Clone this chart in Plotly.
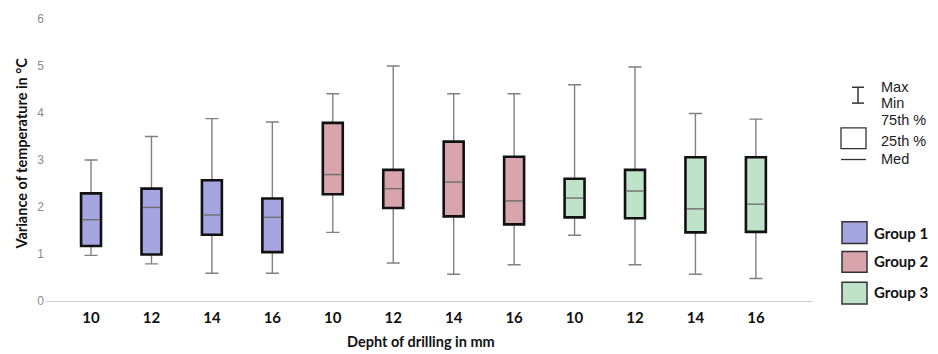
import plotly.graph_objects as go
import numpy as np

depths = ["10", "12", "14", "16"]
groups = ["Group 1", "Group 2", "Group 3"]
fills = ["#A5A5E1", "#D9A5AD", "#BEE3C9"]

maxv = [[3.00, 3.50, 3.88, 3.81], [4.41, 5.00, 4.41, 4.41], [4.60, 4.98, 3.99, 3.87]]
q3v = [[2.29, 2.39, 2.57, 2.18], [3.79, 2.79, 3.39, 3.07], [2.60, 2.79, 3.06, 3.06]]
medv = [[1.73, 1.99, 1.83, 1.78], [2.69, 2.39, 2.53, 2.13], [2.19, 2.34, 1.96, 2.06]]
q1v = [[1.17, 0.99, 1.41, 1.04], [2.27, 1.98, 1.80, 1.63], [1.78, 1.76, 1.46, 1.47]]
minv = [[0.97, 0.79, 0.59, 0.59], [1.46, 0.81, 0.57, 0.77], [1.40, 0.77, 0.57, 0.48]]

W, H = 938, 354
# plot area in pixels
PL, PR, PT, PB = 46, 813, 16, 301
ML, MR, MT, MB = PL, W - PR, PT, H - PB

def px(x):
    return (x - PL) / (PR - PL)

def py(y):
    return (PB - y) / (PB - PT)

fig = go.Figure()
BOXW = 0.33
for g in range(3):
    xs = [g * 4 + j for j in range(4)]
    mx = np.array(maxv[g]); mn = np.array(minv[g])
    q1 = np.array(q1v[g]); q3 = np.array(q3v[g]); md = np.array(medv[g])
    # whiskers
    fig.add_trace(go.Bar(
        x=xs, y=mx, width=BOXW,
        marker=dict(color="rgba(0,0,0,0)", line=dict(width=0)),
        error_y=dict(type="data", symmetric=False, array=np.zeros(4), arrayminus=mx - mn,
                     color="#808080", thickness=1.4, width=6.5),
        showlegend=False, hoverinfo="skip"))
    # boxes
    fig.add_trace(go.Bar(
        x=xs, y=q3 - q1, base=q1, width=BOXW, name=groups[g],
        marker=dict(color=fills[g], line=dict(color="#111111", width=2.6)),
        showlegend=False))
    # medians
    fig.add_trace(go.Scatter(
        x=xs, y=md, mode="markers",
        marker=dict(symbol="line-ew", size=12.2, line=dict(color="#6e6e6e", width=1.4)),
        showlegend=False, hoverinfo="skip"))

ticktext = depths * 3
fig.update_layout(
    width=W, height=H, autosize=False,
    margin=dict(l=ML, r=MR, t=MT, b=MB),
    plot_bgcolor="white", paper_bgcolor="white",
    barmode="overlay",
    xaxis=dict(range=[-0.745, 11.945], tickvals=list(range(12)), ticktext=ticktext,
               showgrid=False, zeroline=False, showline=True, linecolor="#d0d0d0", linewidth=1,
               ticks="", ticklabelstandoff=3,
               tickfont=dict(family="Lato", size=15, color="#111111", weight="bold")),
    yaxis=dict(range=[0, 6], dtick=1, showgrid=False, zeroline=False, showline=False,
               ticks="", tickfont=dict(family="Liberation Sans", size=12, color="#8c8c8c"),
               ticklabelstandoff=1),
)

shapes = []
anns = []
lc = "#333333"
# axis titles
anns.append(dict(text="Variance of temperature in °C", xref="paper", yref="paper", x=px(22), y=py(152),
                 xanchor="center", yanchor="middle", textangle=-90, showarrow=False,
                 font=dict(family="Lato", size=14.5, color="#111111", weight="bold")))
anns.append(dict(text="Depht of drilling in mm", xref="paper", yref="paper", x=px(421), y=py(342),
                 xanchor="center", yanchor="middle", showarrow=False,
                 font=dict(family="Lato", size=14.5, color="#111111", weight="bold")))
# Max/Min symbol
shapes.append(dict(type="line", xref="paper", yref="paper", x0=px(858), x1=px(858), y0=py(85), y1=py(101), line=dict(color=lc, width=1.5)))
shapes.append(dict(type="line", xref="paper", yref="paper", x0=px(852), x1=px(864), y0=py(85), y1=py(85), line=dict(color=lc, width=1.5)))
shapes.append(dict(type="line", xref="paper", yref="paper", x0=px(852), x1=px(864), y0=py(101), y1=py(101), line=dict(color=lc, width=1.5)))
# quartile square
shapes.append(dict(type="rect", xref="paper", yref="paper", x0=px(841), x1=px(866), y0=py(147), y1=py(126), line=dict(color=lc, width=1.3)))
# median line
shapes.append(dict(type="line", xref="paper", yref="paper", x0=px(841), x1=px(866), y0=py(158), y1=py(158), line=dict(color=lc, width=1.3)))

labels_top = [("Max", 85), ("Min", 101), ("75th %", 118), ("25th %", 139), ("Med", 157)]
for t, yy in labels_top:
    anns.append(dict(text=t, xref="paper", yref="paper", x=px(880), y=py(yy), xanchor="left", yanchor="middle",
                     showarrow=False, borderpad=0,
                     font=dict(family="Liberation Sans", size=14.5, color="#222222")))

gy = [(221, 243, 232), (251, 272, 261), (282, 304, 292)]
for g in range(3):
    y0, y1, yt = gy[g]
    shapes.append(dict(type="rect", xref="paper", yref="paper", x0=px(842), x1=px(867), y0=py(y1), y1=py(y0),
                       fillcolor=fills[g], line=dict(color="#333333", width=1.5)))
    anns.append(dict(text=groups[g], xref="paper", yref="paper", x=px(872), y=py(yt), xanchor="left", yanchor="middle",
                     showarrow=False, font=dict(family="Lato", size=15, color="#111111", weight="bold")))

fig.update_layout(shapes=shapes, annotations=anns)
fig.write_html("out.html", config={"displayModeBar": False},
               post_script="document.body.style.margin='0px';")
